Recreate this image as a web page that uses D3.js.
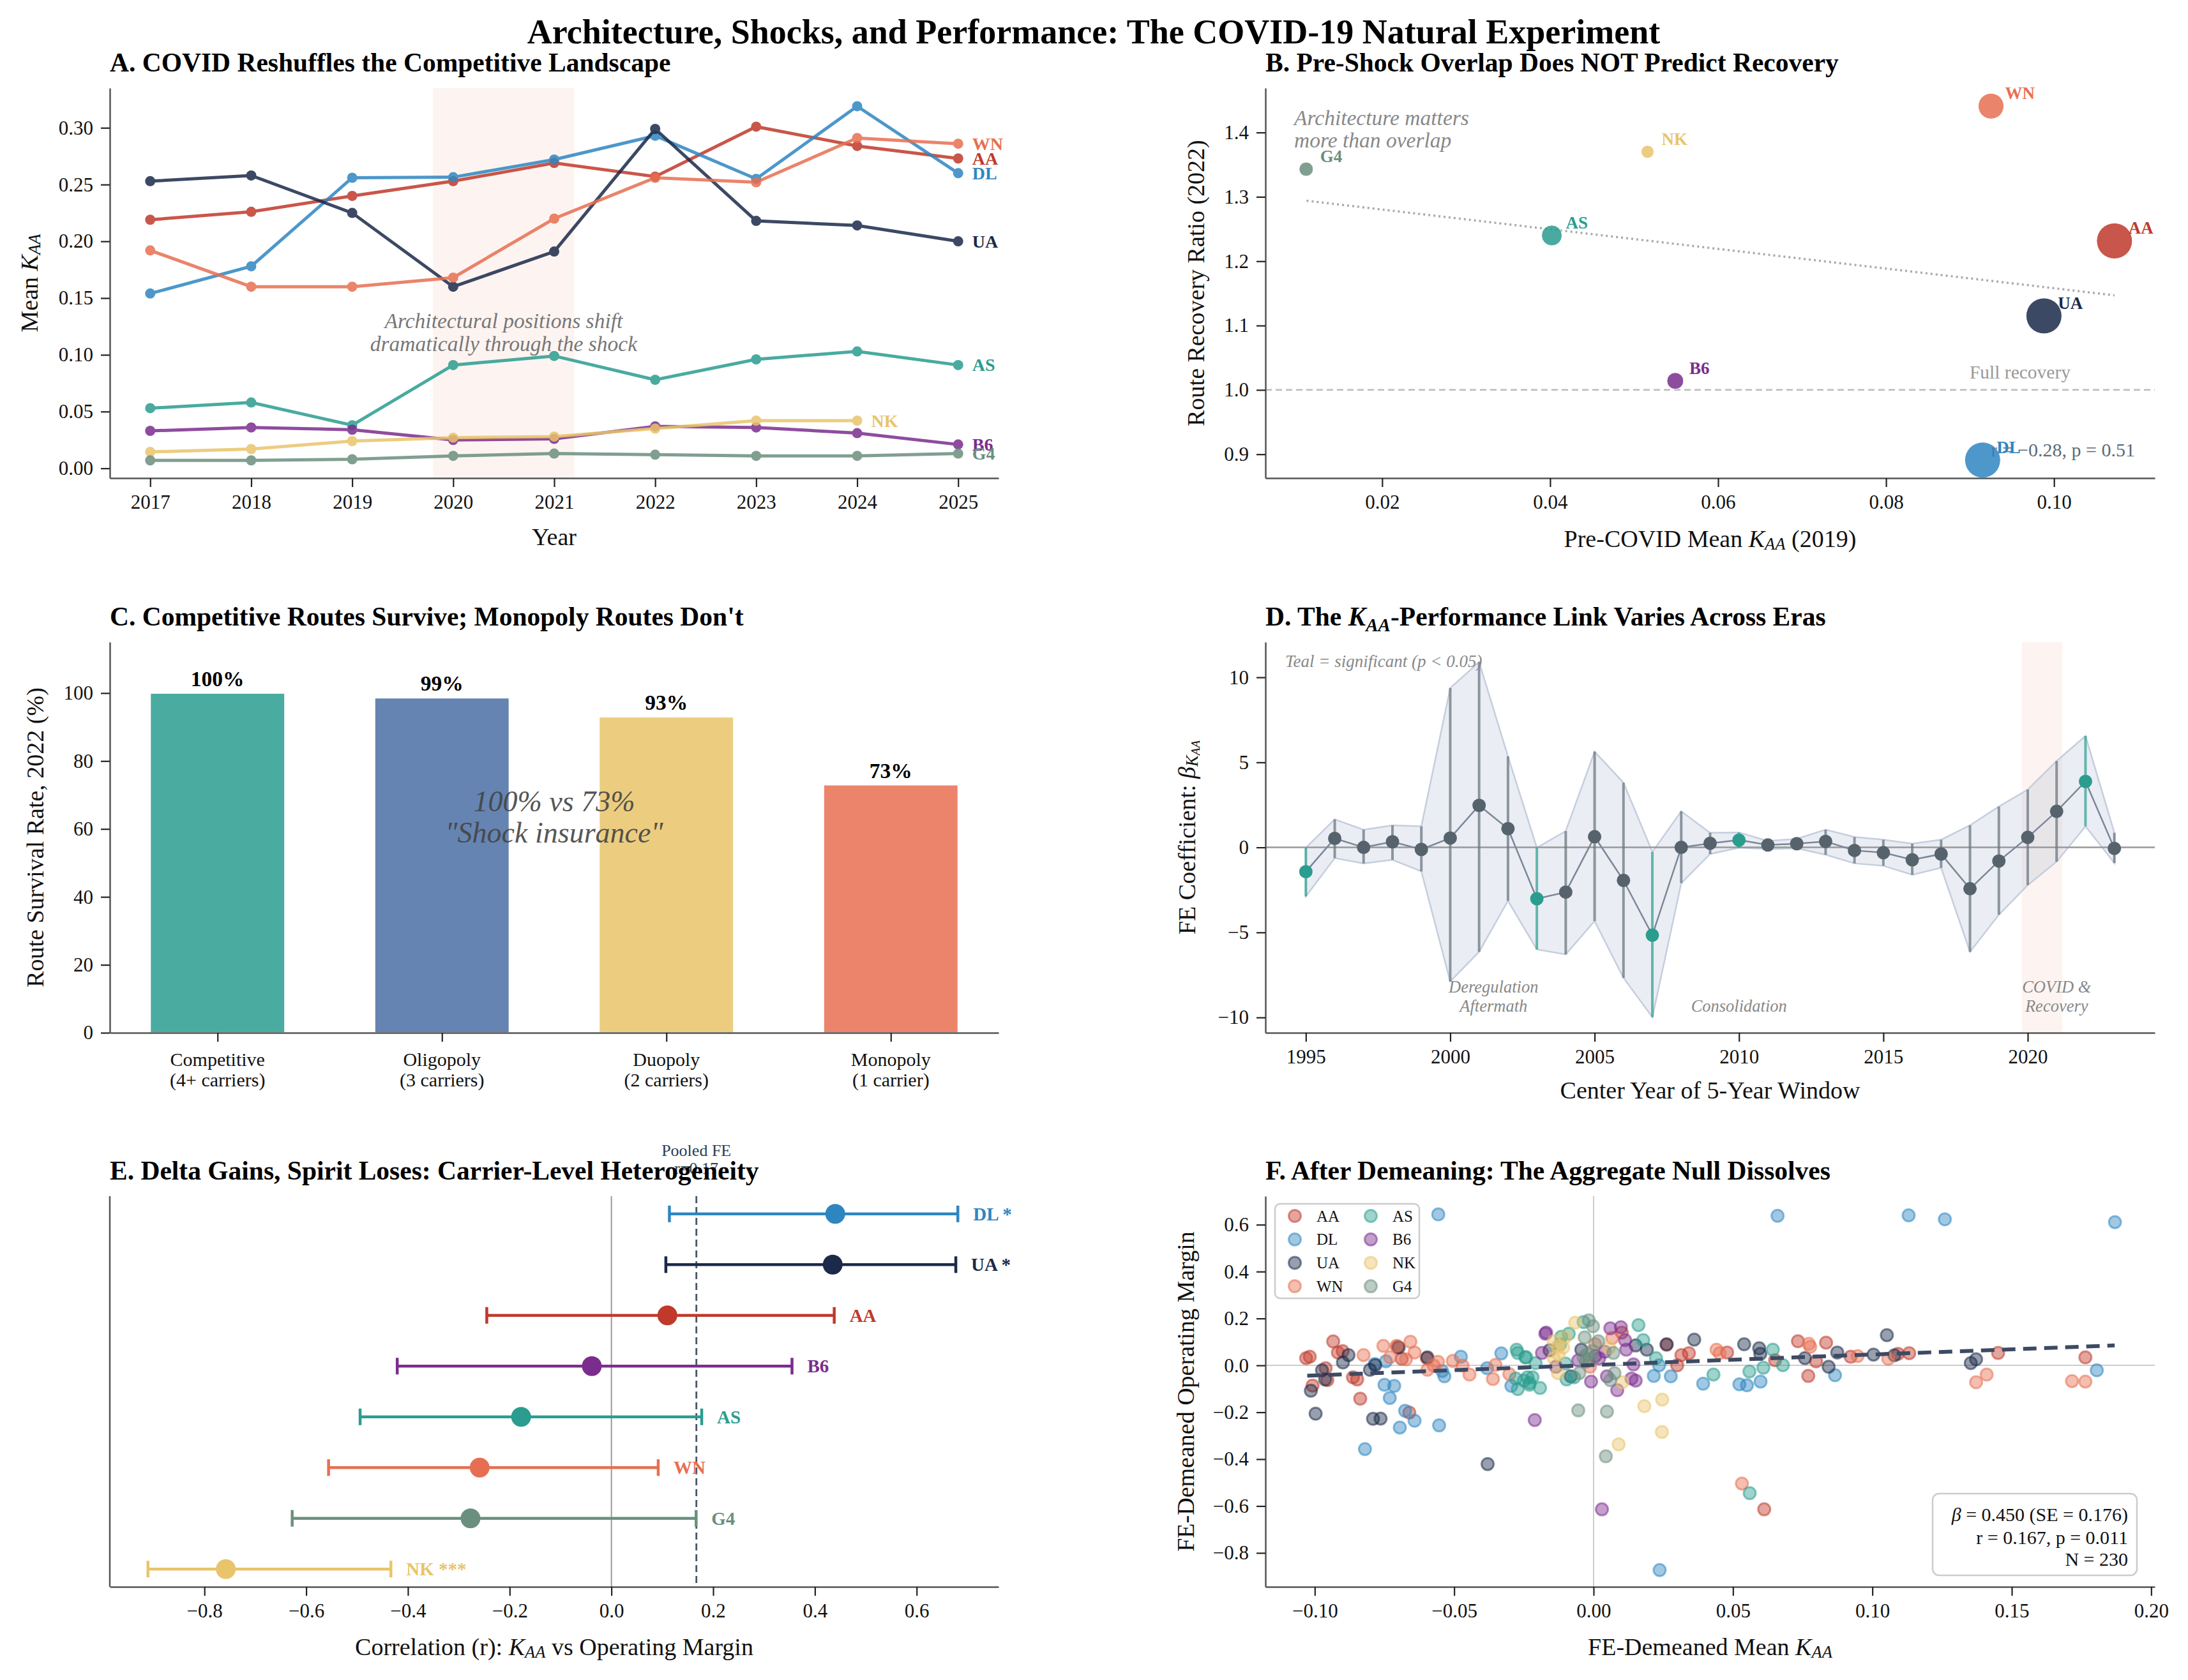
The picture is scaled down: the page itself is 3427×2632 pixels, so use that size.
<!DOCTYPE html>
<html>
<head>
<meta charset="utf-8">
<script src="https://cdn.jsdelivr.net/npm/d3@7"></script>
<style>
	body { margin: 0; background: #fff; }
</style>
</head>
<body>
<script>
// ---- data ----
const carriers = ['AA', 'DL', 'UA', 'WN', 'AS', 'B6', 'NK', 'G4']
const carrierColors = ['#c0392b', '#2e86c1', '#1b2a4a', '#e76f51', '#2a9d8f', '#7b2d8e', '#e9c46a', '#6b8f7e']

// A. mean K_AA by year
const years = [2017, 2018, 2019, 2020, 2021, 2022, 2023, 2024, 2025]
const kaaAA = [0.219, 0.226, 0.240, 0.253, 0.269, 0.257, 0.301, 0.284, 0.273]
const kaaDL = [0.154, 0.178, 0.256, 0.2565, 0.272, 0.293, 0.255, 0.319, 0.260]
const kaaUA = [0.253, 0.258, 0.225, 0.160, 0.191, 0.299, 0.218, 0.214, 0.200]
const kaaWN = [0.192, 0.160, 0.160, 0.168, 0.220, 0.256, 0.252, 0.291, 0.286]
const kaaAS = [0.053, 0.058, 0.038, 0.091, 0.099, 0.078, 0.096, 0.103, 0.091]
const kaaB6 = [0.033, 0.036, 0.034, 0.025, 0.026, 0.037, 0.036, 0.031, 0.021]
const kaaNK = [0.0145, 0.017, 0.024, 0.027, 0.028, 0.035, 0.042, 0.042, null]
const kaaG4 = [0.007, 0.007, 0.008, 0.011, 0.013, 0.012, 0.011, 0.011, 0.013]
const covidSpan = [2019.8, 2021.2]

// B. pre-covid overlap vs recovery (carriers order)
const preKaa = [0.1072, 0.0915, 0.0988, 0.0925, 0.0402, 0.0549, 0.0516, 0.01095]
const recovery = [1.2315, 0.891, 1.115, 1.441, 1.240, 1.014, 1.370, 1.343]
const bubbleSize = [780, 780, 780, 400, 256, 169, 100, 121]
const trendB = [[0.011, 1.294], [0.1072, 1.147]]

// C. route survival
const survCats = [['Competitive', '(4+ carriers)'], ['Oligopoly', '(3 carriers)'], ['Duopoly', '(2 carriers)'], ['Monopoly', '(1 carrier)']]
const survRate = [100, 98.6, 93.0, 73.0]
const survColors = ['#2a9d8f', '#4a6fa5', '#e9c46a', '#e76f51']

// D. rolling window coefficients
const dYears = [1995, 1996, 1997, 1998, 1999, 2000, 2001, 2002, 2003, 2004, 2005, 2006, 2007, 2008, 2009, 2010, 2011, 2012, 2013, 2014, 2015, 2016, 2017, 2018, 2019, 2020, 2021, 2022, 2023]
const dBeta = [-1.43, 0.53, 0.0, 0.33, -0.12, 0.55, 2.47, 1.1, -3.02, -2.63, 0.63, -1.94, -5.16, 0.0, 0.24, 0.43, 0.14, 0.22, 0.35, -0.18, -0.31, -0.73, -0.39, -2.43, -0.8, 0.59, 2.12, 3.88, -0.06]
const dLo = [-2.88, -0.63, -0.94, -0.73, -1.41, -7.88, -6.14, -3.14, -6.0, -6.29, -4.33, -7.67, -9.98, -2.1, -0.39, -0.02, -0.1, -0.05, -0.43, -0.94, -1.08, -1.61, -1.2, -6.14, -3.96, -2.22, -0.84, 1.24, -0.92]
const dHi = [-0.02, 1.65, 1.04, 1.3, 1.24, 9.37, 10.9, 5.35, -0.02, 0.96, 5.63, 3.8, -0.27, 2.12, 0.86, 0.88, 0.38, 0.5, 1.04, 0.61, 0.45, 0.22, 0.45, 1.3, 2.4, 3.4, 5.08, 6.55, 0.86]
const dSig = [1, 0, 0, 0, 0, 0, 0, 0, 1, 0, 0, 0, 1, 0, 0, 1, 0, 0, 0, 0, 0, 0, 0, 0, 0, 0, 0, 1, 0]

// E. carrier correlations
const eCarriers = ['DL', 'UA', 'AA', 'B6', 'AS', 'WN', 'G4', 'NK']
const eR = [0.44, 0.435, 0.110, -0.0385, -0.1775, -0.259, -0.277, -0.758]
const eLo = [0.114, 0.107, -0.245, -0.421, -0.494, -0.556, -0.6275, -0.911]
const eHi = [0.681, 0.677, 0.438, 0.355, 0.1775, 0.092, 0.1665, -0.4335]
const eStars = ['*', '*', '', '', '', '', '', '***']
const pooledR = 0.167

// F. demeaned scatter [kaa, margin]
const feAA = [[-0.1031, 0.031], [-0.1018, 0.037], [-0.0934, 0.102], [-0.0917, 0.055], [-0.090, 0.061], [-0.0961, -0.012], [-0.0955, -0.063], [-0.1008, -0.086], [-0.0863, -0.051], [-0.0848, -0.060], [-0.0837, -0.142], [-0.0661, -0.201], [-0.0703, 0.080], [-0.0688, 0.028], [-0.0598, 0.031], [0.0101, 0.140], [0.0262, 0.088], [0.0315, 0.044], [0.030, 0.0], [0.0342, 0.052], [0.0479, 0.055], [0.0651, 0.022], [0.0733, 0.103], [0.077, -0.045], [0.0798, 0.017], [0.0834, 0.097], [0.0922, 0.037], [0.1092, 0.049], [0.1132, 0.052], [0.1451, 0.053], [0.1764, 0.034], [0.0612, -0.614]]
const feDL = [[-0.0785, 0.006], [-0.0745, 0.017], [-0.0543, -0.024], [-0.0535, -0.047], [-0.075, -0.083], [-0.0715, -0.0875], [-0.0731, -0.139], [-0.0676, -0.194], [-0.0642, -0.236], [-0.0695, -0.265], [-0.0554, -0.256], [-0.082, -0.357], [-0.0476, 0.037], [-0.0382, -0.012], [-0.0331, 0.051], [-0.0295, -0.0875], [0.0235, 0.0], [0.0216, -0.045], [0.0277, -0.047], [0.0393, -0.078], [0.0523, -0.081], [0.055, -0.085], [0.0599, -0.069], [0.0866, -0.042], [0.1805, -0.021], [-0.0557, 0.644], [0.066, 0.638], [0.113, 0.64], [0.126, 0.623], [0.187, 0.611], [0.0237, -0.873]]
const feUA = [[-0.0879, 0.044], [-0.0899, 0.0125], [-0.0974, -0.021], [-0.0963, -0.060], [-0.1014, -0.108], [-0.0997, -0.206], [-0.0802, -0.019], [-0.0783, 0.001], [-0.0699, 0.076], [-0.0596, 0.034], [-0.0791, -0.228], [-0.0764, -0.227], [-0.038, -0.421], [-0.0158, 0.064], [-0.0082, -0.047], [-0.0044, 0.067], [0.0151, 0.085], [0.0191, 0.067], [0.0262, 0.090], [0.0361, 0.110], [0.054, 0.090], [0.0594, 0.073], [0.0598, 0.049], [0.0758, 0.031], [0.0874, 0.055], [0.0843, -0.006], [0.1004, 0.046], [0.1052, 0.129], [0.1079, 0.043], [0.1353, 0.010], [0.1372, 0.026]]
const feWN = [[-0.0825, 0.044], [-0.0754, 0.083], [-0.073, 0.035], [-0.0707, 0.083], [-0.0673, 0.026], [-0.0657, 0.101], [-0.0642, 0.055], [-0.0596, -0.019], [-0.0573, -0.001], [-0.0558, 0.015], [-0.0505, 0.019], [-0.047, -0.001], [-0.0445, -0.039], [-0.0352, 0.002], [-0.0361, -0.058], [-0.0302, -0.037], [-0.0013, -0.006], [0.0006, 0.090], [0.0067, 0.117], [0.0441, 0.067], [0.0452, 0.052], [0.0772, 0.092], [0.0777, 0.079], [0.0947, 0.040], [0.1057, 0.028], [0.141, -0.039], [0.1372, -0.072], [0.1716, -0.067], [0.1764, -0.069], [0.0532, -0.504]]
const feAS = [[-0.0276, 0.067], [-0.0272, 0.053], [-0.0245, 0.034], [-0.0279, -0.056], [-0.0272, -0.101], [-0.0237, -0.051], [-0.023, -0.083], [-0.0242, 0.035], [-0.0208, 0.010], [-0.025, -0.065], [-0.0219, -0.051], [-0.0192, -0.0965], [-0.023, -0.074], [-0.0116, 0.122], [-0.0089, 0.135], [-0.0101, 0.008], [-0.0097, -0.060], [-0.0036, 0.185], [0.0178, 0.108], [0.0161, 0.172], [0.0224, 0.031], [0.043, -0.039], [0.0559, -0.026], [0.0609, -0.010], [0.0643, 0.067], [0.0679, 0.001], [0.056, -0.545], [-0.007, -0.051], [-0.012, 0.09]]
const feB6 = [[-0.0211, -0.233], [-0.0173, 0.135], [-0.017, 0.14], [-0.0185, 0.053], [-0.0135, -0.006], [-0.0055, 0.021], [0.0006, 0.040], [-0.0009, -0.069], [0.006, 0.158], [0.0098, 0.163], [0.0113, 0.108], [0.0117, 0.067], [0.004, 0.058], [0.0143, 0.004], [0.0048, -0.047], [0.0085, -0.106], [0.0136, -0.056], [0.0151, -0.065], [0.003, -0.614], [0.002, 0.03]]
const feNK = [[-0.0143, 0.103], [-0.0128, 0.081], [-0.0109, 0.076], [-0.0101, 0.12], [-0.0143, 0.031], [-0.0128, -0.033], [-0.0066, 0.182], [0.0056, 0.076], [0.0103, -0.072], [0.0182, -0.174], [0.0246, -0.146], [0.009, -0.337], [0.0245, -0.284], [-0.0125, 0.045]]
const feG4 = [[-0.0017, 0.192], [-0.0002, 0.167], [-0.0032, 0.119], [-0.0036, 0.035], [-0.0021, 0.049], [-0.0005, 0.061], [-0.0028, 0.015], [-0.0009, 0.026], [-0.0051, -0.033], [0.0017, 0.103], [0.0071, 0.053], [0.006, -0.063], [0.0075, -0.033], [-0.0055, -0.192], [0.0048, -0.197], [0.0044, -0.388]]
const fitF = [[-0.1027, -0.044], [0.1869, 0.085]]
const statsF = ['= 0.450 (SE = 0.176)', 'r = 0.167, p = 0.011', 'N = 230']

// ---- drawing ----
const serif = '"Liberation Serif", "Times New Roman", serif'
const colorOf = c => carrierColors[carriers.indexOf(c)]
const svg = d3.select('body').append('svg')
	.attr('width', 3427).attr('height', 2632)
	.style('font-family', serif)
svg.append('rect').attr('width', 3427).attr('height', 2632).attr('fill', '#fff')

const LEFT = [172, 1564], RIGHT = [1982, 3375]
const ROWS = [[138, 749], [1006, 1618], [1874, 2486]]
const LAB = 38
const panel = (col, row) => ({
	g: svg.append('g').attr('transform', `translate(${col[0]},${row[0]})`),
	x0: col[0], y0: row[0], w: col[1] - col[0], h: row[1] - row[0]
})

// text with italic / subscript pieces: [text, style]
const rich = (sel, parts, size) => {
	parts.forEach(p => {
		const t = sel.append('tspan').text(p[0])
		if (p[1] === 'i') t.attr('font-style', 'italic')
		if (p[1] === 's') t.attr('font-style', 'italic').attr('font-size', size * .7).attr('baseline-shift', -size * .22)
		if (p[1] === 'ss') t.attr('font-style', 'italic').attr('font-size', size * .5).attr('baseline-shift', -size * .36)
	})
	return sel
}
const KAA = [['K', 'i'], ['AA', 's']]

const styleAxis = sel => {
	sel.select('.domain').attr('stroke', '#555').attr('stroke-width', 2.5)
	sel.selectAll('.tick line').attr('stroke', '#222').attr('stroke-width', 2.2)
	sel.selectAll('.tick text').attr('font-family', serif).attr('font-size', 31).attr('fill', '#111')
}
const axes = (p, x, y, xt, yt) => {
	const gx = p.g.append('g').attr('transform', `translate(0,${p.h})`)
		.call(d3.axisBottom(x).tickValues(xt[0]).tickFormat(xt[1]).tickSize(14).tickSizeOuter(0).tickPadding(12))
	styleAxis(gx)
	if (yt) {
		const gy = p.g.append('g')
			.call(d3.axisLeft(y).tickValues(yt[0]).tickFormat(yt[1]).tickSize(14).tickSizeOuter(0).tickPadding(12))
		styleAxis(gy)
	}
	else {
		p.g.append('line').attr('y2', p.h).attr('stroke', '#555').attr('stroke-width', 2.5)
	}
}
const title = (p, parts) => rich(svg.append('text')
	.attr('x', p.x0).attr('y', p.y0 - 26)
	.attr('font-size', 41.5).attr('font-weight', 'bold').attr('fill', '#000'), parts, 41.5)
const xlabel = (p, y, parts) => rich(svg.append('text')
	.attr('x', p.x0 + p.w / 2).attr('y', y)
	.attr('text-anchor', 'middle').attr('dominant-baseline', 'central')
	.attr('font-size', LAB).attr('fill', '#111'), parts, LAB)
const ylabel = (p, x, parts) => rich(svg.append('text')
	.attr('transform', `translate(${x},${p.y0 + p.h / 2}) rotate(-90)`)
	.attr('text-anchor', 'middle').attr('dominant-baseline', 'central')
	.attr('font-size', LAB).attr('fill', '#111'), parts, LAB)

svg.append('text').attr('x', 1713).attr('y', 68)
	.attr('text-anchor', 'middle').attr('font-size', 54).attr('font-weight', 'bold')
	.text('Architecture, Shocks, and Performance: The COVID-19 Natural Experiment')

// ---------- A ----------
{
	const p = panel(LEFT, ROWS[0])
	const x = d3.scaleLinear().domain([2016.6, 2025.4]).range([0, p.w])
	const y = d3.scaleLinear().domain([-0.0086, 0.335]).range([p.h, 0])
	p.g.append('rect').attr('x', x(covidSpan[0])).attr('width', x(covidSpan[1]) - x(covidSpan[0]))
		.attr('y', 0).attr('height', p.h).attr('fill', '#e76f51').attr('opacity', .08)

	const seriesA = [kaaAA, kaaDL, kaaUA, kaaWN, kaaAS, kaaB6, kaaNK, kaaG4]
	const line = d3.line().defined(d => d[1] !== null).x(d => x(d[0])).y(d => y(d[1]))
	seriesA.forEach((vals, i) => {
		const pts = years.map((yr, j) => [yr, vals[j]])
		const gs = p.g.append('g').attr('opacity', .85)
		gs.append('path').datum(pts).attr('d', line)
			.attr('fill', 'none').attr('stroke', carrierColors[i]).attr('stroke-width', 5)
		gs.selectAll('circle').data(pts.filter(d => d[1] !== null)).join('circle')
			.attr('cx', d => x(d[0])).attr('cy', d => y(d[1])).attr('r', 8).attr('fill', carrierColors[i])
		const last = pts.filter(d => d[1] !== null).pop()
		p.g.append('text').attr('x', x(last[0]) + 22).attr('y', y(last[1]))
			.attr('dominant-baseline', 'central').attr('font-size', 28).attr('font-weight', 'bold')
			.attr('fill', carrierColors[i]).text(carriers[i])
	})
	const ann = p.g.append('text').attr('text-anchor', 'middle').attr('font-size', 33.5)
		.attr('font-style', 'italic').attr('fill', '#777')
	ann.append('tspan').attr('x', x(2020.5)).attr('y', y(0.130)).attr('dominant-baseline', 'central').text('Architectural positions shift')
	ann.append('tspan').attr('x', x(2020.5)).attr('y', y(0.110)).attr('dominant-baseline', 'central').text('dramatically through the shock')

	axes(p, x, y, [years, d3.format('d')], [d3.range(0, 0.31, 0.05), d3.format('.2f')])
	title(p, [['A. COVID Reshuffles the Competitive Landscape']])
	xlabel(p, 841, [['Year']])
	ylabel(p, 46, [['Mean '], ...KAA])
}

// ---------- B ----------
{
	const p = panel(RIGHT, ROWS[0])
	const x = d3.scaleLinear().domain([0.0061, 0.112]).range([0, p.w])
	const y = d3.scaleLinear().domain([0.863, 1.469]).range([p.h, 0])
	const r = d3.scaleSqrt().domain([0, 780]).range([0, 28])

	p.g.append('line').attr('x1', 0).attr('x2', p.w).attr('y1', y(1)).attr('y2', y(1))
		.attr('stroke', '#bbb').attr('stroke-width', 2.5).attr('stroke-dasharray', '10,6')
	p.g.append('text').attr('x', 1182).attr('y', y(1) - 18).attr('text-anchor', 'middle')
		.attr('font-size', 29.5).attr('fill', '#999').text('Full recovery')
	p.g.append('path').datum(trendB)
		.attr('d', d3.line().x(d => x(d[0])).y(d => y(d[1])))
		.attr('stroke', '#aaa').attr('stroke-width', 3.5).attr('stroke-dasharray', '3,5').attr('fill', 'none')
	p.g.append('text').attr('x', 1362).attr('y', 577).attr('text-anchor', 'end')
		.attr('font-size', 30).attr('fill', '#5a6b7b').text('r = \u22120.28, p = 0.51')

	p.g.selectAll('circle.b').data(carriers).join('circle')
		.attr('cx', (d, i) => x(preKaa[i])).attr('cy', (d, i) => y(recovery[i]))
		.attr('r', (d, i) => r(bubbleSize[i])).attr('fill', (d, i) => carrierColors[i]).attr('opacity', .85)
		.attr('stroke', '#fff').attr('stroke-width', 1)
	p.g.selectAll('text.b').data(carriers).join('text')
		.attr('x', (d, i) => x(preKaa[i]) + 22).attr('y', (d, i) => y(recovery[i]) - 11)
		.attr('font-size', 27).attr('font-weight', 'bold').attr('fill', (d, i) => carrierColors[i]).text(d => d)

	const ann = p.g.append('text').attr('font-size', 33.5).attr('font-style', 'italic').attr('fill', '#888')
	ann.append('tspan').attr('x', 45).attr('y', 46).attr('dominant-baseline', 'central').text('Architecture matters')
	ann.append('tspan').attr('x', 45).attr('y', 81).attr('dominant-baseline', 'central').text('more than overlap')

	axes(p, x, y, [[0.02, 0.04, 0.06, 0.08, 0.10], d3.format('.2f')], [[0.9, 1.0, 1.1, 1.2, 1.3, 1.4], d3.format('.1f')])
	title(p, [['B. Pre-Shock Overlap Does NOT Predict Recovery']])
	xlabel(p, 844, [['Pre-COVID Mean '], ...KAA, [' (2019)']])
	ylabel(p, 1873, [['Route Recovery Ratio (2022)']])
}

// ---------- C ----------
{
	const p = panel(LEFT, ROWS[1])
	const x = d3.scaleLinear().domain([-0.48, 3.48]).range([0, p.w])
	const y = d3.scaleLinear().domain([0, 115]).range([p.h, 0])
	const bw = x(0.6) - x(0)
	p.g.selectAll('rect.bar').data(survRate).join('rect')
		.attr('x', (d, i) => x(i) - bw / 2).attr('width', bw)
		.attr('y', d => y(d)).attr('height', d => p.h - y(d))
		.attr('fill', (d, i) => survColors[i]).attr('fill-opacity', .85)
		.attr('stroke', '#fff').attr('stroke-width', 2)
	p.g.selectAll('text.val').data(survRate).join('text')
		.attr('x', (d, i) => x(i)).attr('y', d => y(d) - 11)
		.attr('text-anchor', 'middle').attr('font-size', 33.5).attr('font-weight', 'bold')
		.text(d => d3.format('.0f')(d) + '%')
	const ann = p.g.append('text').attr('text-anchor', 'middle').attr('font-size', 46)
		.attr('font-style', 'italic').attr('fill', '#444').attr('opacity', .9)
	ann.append('tspan').attr('x', x(1.5)).attr('y', y(68.2)).attr('dominant-baseline', 'central').text('100% vs 73%')
	ann.append('tspan').attr('x', x(1.5)).attr('y', y(59.0)).attr('dominant-baseline', 'central').text('"Shock insurance"')

	axes(p, x, y, [[0, 1, 2, 3], () => ''], [d3.range(0, 101, 20), d3.format('d')])
	survCats.forEach((c, i) => {
		const t = p.g.append('text').attr('text-anchor', 'middle').attr('font-size', 30).attr('fill', '#111')
		t.append('tspan').attr('x', x(i)).attr('y', p.h + 52).text(c[0])
		t.append('tspan').attr('x', x(i)).attr('y', p.h + 84).text(c[1])
	})
	title(p, [["C. Competitive Routes Survive; Monopoly Routes Don't"]])
	ylabel(p, 55, [['Route Survival Rate, 2022 (%)']])
}

// ---------- D ----------
{
	const p = panel(RIGHT, ROWS[1])
	const x = d3.scaleLinear().domain([1993.6, 2024.4]).range([0, p.w])
	const y = d3.scaleLinear().domain([-10.9, 12.07]).range([p.h, 0])
	const rows = dYears.map((yr, i) => ({ yr, b: dBeta[i], lo: dLo[i], hi: dHi[i], sig: dSig[i] }))

	p.g.append('rect').attr('x', x(covidSpan[0])).attr('width', x(covidSpan[1]) - x(covidSpan[0]))
		.attr('y', 0).attr('height', p.h).attr('fill', '#e76f51').attr('opacity', .08)
	p.g.append('path').datum(rows)
		.attr('d', d3.area().x(d => x(d.yr)).y0(d => y(d.lo)).y1(d => y(d.hi)))
		.attr('fill', '#b8c3d6').attr('fill-opacity', .3).attr('stroke', '#c5cede').attr('stroke-width', 2.5)
	p.g.append('line').attr('x2', p.w).attr('y1', y(0)).attr('y2', y(0)).attr('stroke', '#999').attr('stroke-width', 2.5)
	p.g.selectAll('line.err').data(rows).join('line')
		.attr('x1', d => x(d.yr)).attr('x2', d => x(d.yr)).attr('y1', d => y(d.lo)).attr('y2', d => y(d.hi))
		.attr('stroke', d => d.sig ? '#2a9d8f' : '#6b7780').attr('stroke-opacity', d => d.sig ? .7 : .75).attr('stroke-width', 4)
	p.g.append('path').datum(rows)
		.attr('d', d3.line().x(d => x(d.yr)).y(d => y(d.b)))
		.attr('fill', 'none').attr('stroke', '#7c8699').attr('stroke-width', 2.5)
	p.g.selectAll('circle').data(rows).join('circle')
		.attr('cx', d => x(d.yr)).attr('cy', d => y(d.b)).attr('r', 10.5)
		.attr('fill', d => d.sig ? '#2a9d8f' : '#56636c')

	p.g.append('text').attr('x', 31).attr('y', 30).attr('dominant-baseline', 'central')
		.attr('font-size', 27).attr('font-style', 'italic').attr('fill', '#888').text('Teal = significant (p < 0.05)')
	const era = (yr, lines) => {
		const t = p.g.append('text').attr('text-anchor', 'middle').attr('font-size', 26.5)
			.attr('font-style', 'italic').attr('fill', '#888')
		lines.forEach((l, i) => t.append('tspan').attr('x', x(yr)).attr('y', y(lines.length === 1 ? -9.32 : [-8.19, -9.32][i]))
			.attr('dominant-baseline', 'central').text(l))
	}
	era(2001.5, ['Deregulation', 'Aftermath'])
	era(2010, ['Consolidation'])
	era(2021, ['COVID &', 'Recovery'])

	axes(p, x, y, [d3.range(1995, 2021, 5), d3.format('d')], [[-10, -5, 0, 5, 10], d3.format('d')])
	title(p, [['D. The '], ['K', 'i'], ['AA', 's'], ['-Performance Link Varies Across Eras']])
	xlabel(p, 1708, [['Center Year of 5-Year Window']])
	ylabel(p, 1859, [['FE Coefficient: '], ['\u03b2', 'i'], ['K', 's'], ['AA', 'ss']])
}

// ---------- E ----------
{
	const p = panel(LEFT, ROWS[2])
	const x = d3.scaleLinear().domain([-0.986, 0.761]).range([0, p.w])
	const y = d3.scaleLinear().domain([-0.35, 7.35]).range([0, p.h])

	p.g.append('line').attr('x1', x(0)).attr('x2', x(0)).attr('y2', p.h).attr('stroke', '#999').attr('stroke-width', 2)
	p.g.append('line').attr('x1', x(pooledR)).attr('x2', x(pooledR)).attr('y2', p.h)
		.attr('stroke', '#4a5568').attr('stroke-width', 2.8).attr('stroke-dasharray', '11,6')
	const pool = p.g.append('text').attr('text-anchor', 'middle').attr('font-size', 26).attr('fill', '#2c3e50')
	pool.append('tspan').attr('x', x(pooledR)).attr('y', -72).attr('dominant-baseline', 'central').text('Pooled FE')
	pool.append('tspan').attr('x', x(pooledR)).attr('y', -44).attr('dominant-baseline', 'central').text('r=0.17')

	eCarriers.forEach((c, i) => {
		const col = colorOf(c), cy = y(i)
		const g = p.g.append('g').attr('stroke', col).attr('stroke-width', 4.5)
		g.append('line').attr('x1', x(eLo[i])).attr('x2', x(eHi[i])).attr('y1', cy).attr('y2', cy)
		g.append('line').attr('x1', x(eLo[i])).attr('x2', x(eLo[i])).attr('y1', cy - 13).attr('y2', cy + 13)
		g.append('line').attr('x1', x(eHi[i])).attr('x2', x(eHi[i])).attr('y1', cy - 13).attr('y2', cy + 13)
		p.g.append('circle').attr('cx', x(eR[i])).attr('cy', cy).attr('r', 15.5).attr('fill', col)
		p.g.append('text').attr('x', x(eHi[i]) + 24).attr('y', cy).attr('dominant-baseline', 'central')
			.attr('font-size', 29).attr('font-weight', 'bold').attr('fill', col)
			.text(c + (eStars[i] ? ' ' + eStars[i] : ''))
	})

	axes(p, x, y, [d3.range(-0.8, 0.61, 0.2), d3.format('.1f')], null)
	title(p, [['E. Delta Gains, Spirit Loses: Carrier-Level Heterogeneity']])
	xlabel(p, 2580, [['Correlation (r): '], ...KAA, [' vs Operating Margin']])
}

// ---------- F ----------
{
	const p = panel(RIGHT, ROWS[2])
	const x = d3.scaleLinear().domain([-0.1177, 0.2013]).range([0, p.w])
	const y = d3.scaleLinear().domain([-0.9445, 0.7217]).range([p.h, 0])
	const feData = [feAA, feDL, feUA, feWN, feAS, feB6, feNK, feG4]

	p.g.append('line').attr('x1', x(0)).attr('x2', x(0)).attr('y2', p.h).attr('stroke', '#ccc').attr('stroke-width', 2)
	p.g.append('line').attr('x2', p.w).attr('y1', y(0)).attr('y2', y(0)).attr('stroke', '#ccc').attr('stroke-width', 2)

	feData.forEach((pts, i) => {
		p.g.append('g').selectAll('circle').data(pts).join('circle')
			.attr('cx', d => x(d[0])).attr('cy', d => y(d[1])).attr('r', 9.5)
			.attr('fill', carrierColors[i]).attr('fill-opacity', .45)
			.attr('stroke', carrierColors[i]).attr('stroke-opacity', .55).attr('stroke-width', 3)
	})
	p.g.append('path').datum(fitF)
		.attr('d', d3.line().x(d => x(d[0])).y(d => y(d[1])))
		.attr('stroke', '#3d4a63').attr('stroke-width', 6).attr('stroke-dasharray', '21,12').attr('fill', 'none')

	// legend
	const lg = p.g.append('g').attr('transform', 'translate(15,12)')
	lg.append('rect').attr('width', 226).attr('height', 148).attr('rx', 8)
		.attr('fill', '#fff').attr('fill-opacity', .85).attr('stroke', '#ccc').attr('stroke-width', 2.5)
	carriers.forEach((c, i) => {
		const cx = i < 4 ? 31 : 150, cy = 19 + (i % 4) * 36.7
		lg.append('circle').attr('cx', cx).attr('cy', cy).attr('r', 9.5)
			.attr('fill', carrierColors[i]).attr('fill-opacity', .45)
			.attr('stroke', carrierColors[i]).attr('stroke-opacity', .55).attr('stroke-width', 3)
		lg.append('text').attr('x', cx + 34).attr('y', cy).attr('dominant-baseline', 'central')
			.attr('font-size', 25).attr('fill', '#111').text(c)
	})

	// stats box
	const sb = p.g.append('g')
	sb.append('rect').attr('x', 1045).attr('y', 466).attr('width', 320).attr('height', 128).attr('rx', 10)
		.attr('fill', '#fff').attr('fill-opacity', .9).attr('stroke', '#ccc').attr('stroke-width', 2.5)
	const st = sb.append('text').attr('text-anchor', 'end').attr('font-size', 30).attr('fill', '#111')
	const l1 = st.append('tspan').attr('x', 1351).attr('y', 509)
	l1.append('tspan').attr('font-style', 'italic').text('\u03b2')
	l1.append('tspan').text(' ' + statsF[0])
	st.append('tspan').attr('x', 1351).attr('y', 545).text(statsF[1])
	st.append('tspan').attr('x', 1351).attr('y', 579).text(statsF[2])

	axes(p, x, y, [[-0.10, -0.05, 0, 0.05, 0.10, 0.15, 0.20], d3.format('.2f')], [d3.range(-0.8, 0.61, 0.2), d3.format('.1f')])
	title(p, [['F. After Demeaning: The Aggregate Null Dissolves']])
	xlabel(p, 2580, [['FE-Demeaned Mean '], ...KAA])
	ylabel(p, 1857, [['FE-Demeaned Operating Margin']])
}
</script>
</body>
</html>
